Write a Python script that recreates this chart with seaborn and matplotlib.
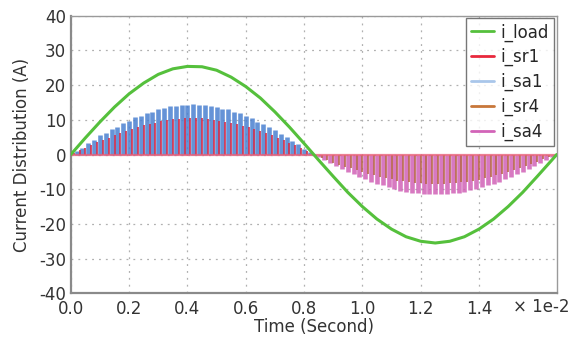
import matplotlib
matplotlib.use("Agg")
import matplotlib.pyplot as plt
from matplotlib.lines import Line2D
import seaborn as sns
import numpy as np
import pandas as pd

# time axis in units of 1e-2 s
t_load = [0.0, 0.05, 0.10, 0.15, 0.20, 0.25, 0.30, 0.35, 0.40, 0.45, 0.50, 0.55,
          0.60, 0.65, 0.70, 0.75, 0.80, 0.85, 0.90, 0.95, 1.00, 1.05, 1.10, 1.15,
          1.20, 1.25, 1.30, 1.35, 1.40, 1.45, 1.50, 1.55, 1.60, 1.65, 1.6667]
i_load = [0.0, 4.8, 9.4, 13.7, 17.5, 20.6, 23.1, 24.7, 25.4, 25.3, 24.3, 22.3,
          19.6, 16.3, 12.3, 7.9, 3.2, -1.6, -6.3, -10.9, -15.0, -18.6, -21.5, -23.7,
          -25.0, -25.5, -25.0, -23.7, -21.5, -18.6, -15.0, -10.9, -6.3, -1.6, 0.0]

# switching pulses, positive half cycle
t_sa1 = np.round(np.arange(0.02, 0.83, 0.02), 3)
i_sa1 = [1.1, 2.0, 3.4, 4.1, 5.5, 6.1, 7.4, 8.0, 9.2, 9.6, 10.8, 11.2, 12.1, 12.4,
         13.2, 13.4, 14.0, 13.9, 14.4, 14.2, 14.5, 14.3, 14.4, 13.9, 13.8, 13.2,
         13.0, 12.2, 11.9, 11.0, 10.5, 9.5, 8.9, 7.8, 7.0, 5.9, 5.0, 3.8, 2.9, 1.7, 0.7]
t_sr1 = np.round(np.arange(0.01, 0.82, 0.02), 3)
i_sr1 = [0.4, 1.2, 1.9, 2.8, 3.5, 4.2, 4.9, 5.6, 6.3, 6.8, 7.5, 8.0, 8.4, 8.9,
         9.2, 9.6, 9.9, 10.1, 10.3, 10.4, 10.5, 10.5, 10.4, 10.3, 10.0, 9.8,
         9.5, 9.1, 8.7, 8.3, 7.8, 7.3, 6.7, 6.1, 5.5, 4.8, 4.1, 3.4, 2.7, 1.9, 1.1]

# switching pulses, negative half cycle
t_sa4 = np.round(np.arange(0.85, 1.66, 0.02), 3)
i_sa4 = [-0.7, -1.6, -2.4, -3.3, -4.1, -4.9, -5.7, -6.4, -7.1, -7.8, -8.4, -8.9,
         -9.5, -9.9, -10.4, -10.7, -11.0, -11.2, -11.4, -11.5, -11.5, -11.5, -11.4,
         -11.2, -11.0, -10.7, -10.3, -9.9, -9.5, -8.9, -8.4, -7.8, -7.1, -6.4, -5.7,
         -4.9, -4.1, -3.3, -2.4, -1.6, -0.7]
t_sr4 = np.round(np.arange(0.84, 1.65, 0.02), 3)
i_sr4 = [-0.3, -1.0, -1.6, -2.3, -2.9, -3.5, -4.0, -4.6, -5.1, -5.6, -6.0, -6.4,
         -6.8, -7.1, -7.5, -7.7, -8.0, -8.2, -8.3, -8.4, -8.5, -8.5, -8.4, -8.3,
         -8.2, -8.0, -7.8, -7.5, -7.2, -6.8, -6.4, -6.0, -5.5, -5.0, -4.5, -3.9,
         -3.3, -2.7, -2.1, -1.4, -0.8]

series_names = ["i_load", "i_sr1", "i_sa1", "i_sr4", "i_sa4"]
colors = {"i_load": "#55c03c", "i_sr1": "#e8283c", "i_sa1": "#a9c6ea",
          "i_sr4": "#c8773a", "i_sa4": "#d264b8"}

sns.set_theme(style="white")
plt.rcParams["font.family"] = ["DejaVu Sans"]
plt.rcParams["axes.unicode_minus"] = False

fig = plt.figure(figsize=(5.71, 3.5), dpi=100)
ax = fig.add_axes([0.124, 0.162, 0.851, 0.793])

# pulses
ax.vlines(t_sa1, 0, i_sa1, color="#4a80d0", lw=3.3, alpha=0.85, zorder=2)
ax.vlines(t_sr1, 0, i_sr1, color="#d42c4a", lw=1.4, alpha=0.85, zorder=3)
ax.vlines(t_sa4, 0, i_sa4, color="#d062b6", lw=3.3, alpha=0.85, zorder=2)
ax.vlines(t_sr4, 0, i_sr4, color="#b8684a", lw=1.4, alpha=0.85, zorder=3)
ax.axhline(0, color="#e8607a", lw=1.6, alpha=0.8, zorder=3)

df_load = pd.DataFrame({"t": t_load, "i": i_load})
sns.lineplot(data=df_load, x="t", y="i", color=colors["i_load"], lw=2.2, ax=ax, zorder=5)

ax.set_xlim(0, 1.6667)
ax.set_ylim(-40, 40)
ax.set_xticks([0.0, 0.2, 0.4, 0.6, 0.8, 1.0, 1.2, 1.4])
ax.set_xticklabels(["0.0", "0.2", "0.4", "0.6", "0.8", "1.0", "1.2", "1.4"])
ax.set_yticks(range(-40, 41, 10))
ax.grid(True, color="#b0b0b0", ls=(0, (1.5, 4)), lw=0.9)
ax.tick_params(axis="both", labelsize=12, labelcolor="#333333", color="#888888",
               direction="inout", length=5, width=0.8)
ax.tick_params(axis="x", pad=2)
ax.tick_params(axis="y", pad=1)
for s in ["left", "bottom"]:
    ax.spines[s].set_color("#8a8a8a")
    ax.spines[s].set_linewidth(1.6)
for s in ["top", "right"]:
    ax.spines[s].set_color("#9a9a9a")
    ax.spines[s].set_linewidth(1.0)

ax.set_xlabel("Time (Second)", fontsize=12, color="#333333", labelpad=0)
ax.set_ylabel("Current Distribution (A)", fontsize=12, color="#333333", labelpad=6)
fig.text(0.998, 0.124, "× 1e-2", ha="right", va="center", fontsize=12, color="#333333")

handles = [Line2D([0], [0], color=colors[n], lw=2) for n in series_names]
leg = ax.legend(handles, series_names, loc="upper right", fontsize=12,
                frameon=True, fancybox=False, handlelength=1.4, handletextpad=0.4,
                borderpad=0.3, labelspacing=0.4, borderaxespad=0.15)
leg.get_frame().set_edgecolor("#555555")
leg.get_frame().set_linewidth(1.0)
leg.set_zorder(10)

fig.savefig("out.png", dpi=100)
